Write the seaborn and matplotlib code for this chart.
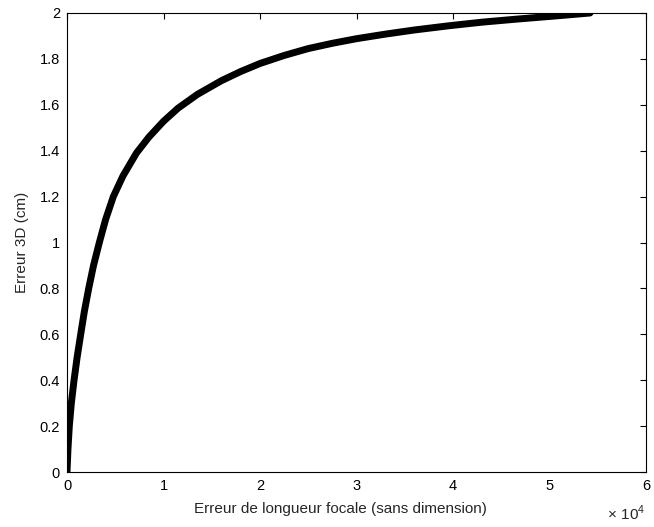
import matplotlib
matplotlib.use("Agg")
import matplotlib.pyplot as plt
import seaborn as sns

# Valeurs
erreur_focale = [0, 100, 240, 450, 730, 1050, 1420, 1800, 2250, 2750,
                 3350, 4000, 4800, 5800, 7200, 8500, 10000, 11500, 13500,
                 16000, 18000, 20000, 22500, 25000, 27500, 30000, 33000,
                 36000, 39500, 43000, 46500, 50000, 52000, 54200]
erreur_3d = [0.0, 0.1, 0.2, 0.3, 0.4, 0.5, 0.6, 0.7, 0.8, 0.9,
             1.0, 1.1, 1.2, 1.29, 1.39, 1.46, 1.528, 1.585, 1.645,
             1.705, 1.745, 1.78, 1.815, 1.845, 1.868, 1.888, 1.908,
             1.926, 1.944, 1.96, 1.973, 1.985, 1.992, 2.0]

x_ticks = [0, 10000, 20000, 30000, 40000, 50000, 60000]
x_tick_labels = ["0", "1", "2", "3", "4", "5", "6"]
y_ticks = [0, 0.2, 0.4, 0.6, 0.8, 1.0, 1.2, 1.4, 1.6, 1.8, 2.0]
y_tick_labels = ["0", "0.2", "0.4", "0.6", "0.8", "1", "1.2", "1.4", "1.6", "1.8", "2"]

sns.set_style("white")
plt.rcParams["font.family"] = ["Liberation Sans", "DejaVu Sans"]
plt.rcParams["mathtext.fontset"] = "custom"
plt.rcParams["mathtext.rm"] = "Liberation Sans"

fig = plt.figure(figsize=(6.54, 5.27), dpi=100)
ax = fig.add_axes([67 / 654, 55 / 527, 579 / 654, 459 / 527])

sns.lineplot(x=erreur_focale, y=erreur_3d, ax=ax, color="black",
             linewidth=5.0, sort=False, solid_capstyle="round",
             solid_joinstyle="round")

ax.set_xlim(0, 60000)
ax.set_ylim(0, 2)
ax.set_xticks(x_ticks)
ax.set_xticklabels(x_tick_labels)
ax.set_yticks(y_ticks)
ax.set_yticklabels(y_tick_labels)

for side in ["top", "right", "bottom", "left"]:
    ax.spines[side].set_visible(True)
    ax.spines[side].set_color("black")
    ax.spines[side].set_linewidth(0.8)

ax.tick_params(direction="in", length=4, width=0.8, top=True, right=True,
               labelsize=10.5, colors="black", pad=5)

ax.set_xlabel("Erreur de longueur focale (sans dimension)", fontsize=11)
ax.xaxis.set_label_coords(0.473, -0.066)
ax.set_ylabel("Erreur 3D (cm)", fontsize=11)
ax.yaxis.set_label_coords(-0.066, 0.5)

fig.text(0.928, 0.008, r"$\times\ \mathrm{10}^{4}$", fontsize=11, ha="left", va="bottom")

fig.savefig("out.png", dpi=100)
plt.close(fig)
